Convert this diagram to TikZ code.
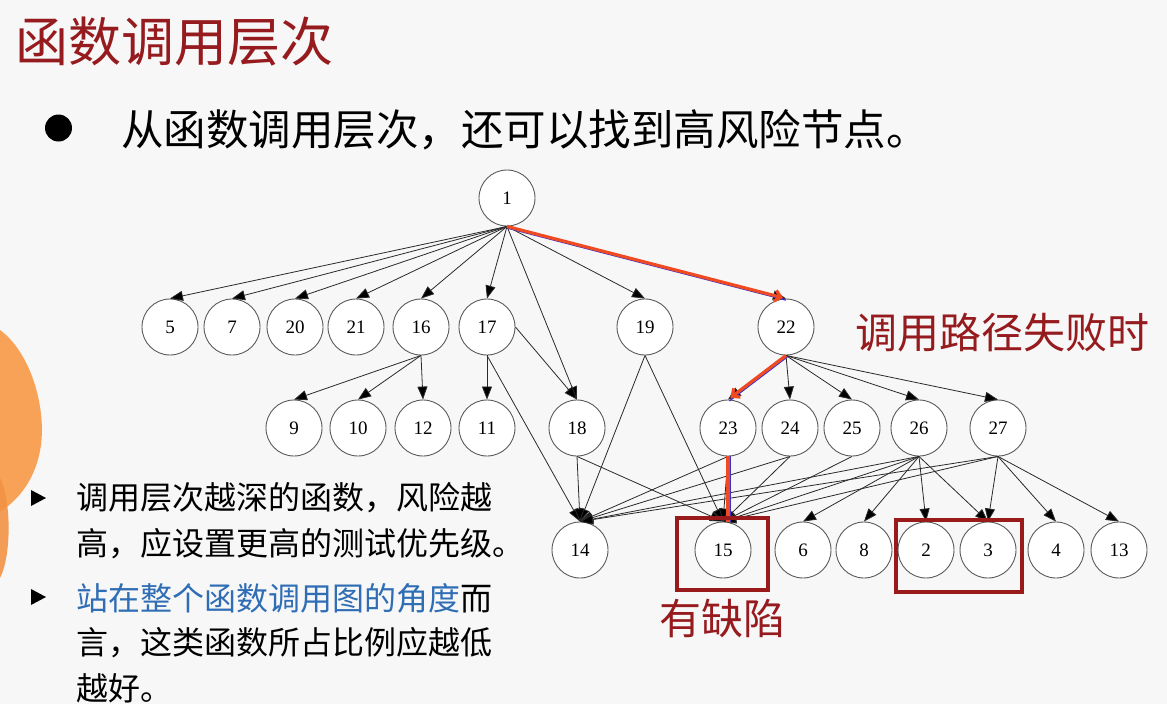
\documentclass[tikz,border=0pt]{standalone}
\usepackage{fontspec}
\setmainfont{Liberation Serif}
\newfontfamily\cjk{Noto Sans CJK SC}
\usetikzlibrary{arrows.meta}
\definecolor{bg}{HTML}{F7F7F7}
\definecolor{darkred}{HTML}{961B1E}
\definecolor{boxred}{HTML}{981A1A}
\definecolor{pathred}{HTML}{F04A22}
\definecolor{pathblue}{HTML}{3A2FD0}
\definecolor{txtblue}{HTML}{2F6DB5}
\definecolor{orangeA}{HTML}{F7A257}
\definecolor{orangeB}{HTML}{F29345}
\definecolor{edgegray}{HTML}{2A2A2A}
\definecolor{nodegray}{HTML}{5A5A5A}
\begin{document}
\begin{tikzpicture}[x=1pt,y=-1pt,
  vx/.style={circle,draw=nodegray,line width=0.9pt,fill=white,minimum size=56pt,inner sep=0pt,font=\fontsize{19}{19}\selectfont},
  edge/.style={draw=edgegray,line width=0.8pt,-{Triangle[length=13pt,width=10pt,fill=black]}},
  hl/.style={draw=pathred,line width=3.2pt,-{Straight Barb[length=6pt,width=11pt]}},
  hlb/.style={draw=pathblue,line width=1.2pt},
  redbox/.style={draw=boxred,line width=3.5pt,inner sep=0pt},
  txt/.style={anchor=west,inner sep=0pt},
  title/.style={txt,text=darkred,font=\cjk\fontsize{53}{53}\selectfont},
  bigtxt/.style={txt,font=\cjk\fontsize{42.5}{42.5}\selectfont},
  redtxt/.style={txt,text=darkred,font=\cjk\fontsize{42}{42}\selectfont},
  smalltxt/.style={txt,font=\cjk\fontsize{32}{32}\selectfont}
]
\useasboundingbox (0,0) rectangle (1167,704);
\fill[bg] (0,0) rectangle (1167,704);
% orange decoration at the left edge
\fill[orangeA] (0,330) .. controls (30,352) and (46,405) .. (41,445) .. controls (36,480) and (18,500) .. (0,512) -- cycle;
\fill[orangeB,opacity=0.9] (0,478) .. controls (11,498) and (12,555) .. (0,578) -- cycle;

% titles and texts
\node[title] (ttl) at (15,42) {函数调用层次};
\fill (58.5,128) circle (13.5);
\node[bigtxt] (lead) at (121,130) {从函数调用层次，还可以找到高风险节点。};
\fill (31,490) -- (46,498) -- (31,506) -- cycle;
\fill (31,589) -- (46,597) -- (31,605) -- cycle;
\node[smalltxt] (l1) at (76,498) {调用层次越深的函数，风险越};
\node[smalltxt] (l2) at (76,544) {高，应设置更高的测试优先级。};
\node[smalltxt] (l3) at (76,598) {\textcolor{txtblue}{站在整个函数调用图的角度}而};
\node[smalltxt] (l4) at (76,643) {言，这类函数所占比例应越低};
\node[smalltxt] (l5) at (76,688) {越好。};
\node[redtxt] (fail) at (855,333) {调用路径失败时};
\node[redtxt] (defect) at (659,618) {有缺陷};

% graph nodes
\node[vx] (n1) at (507,198) {1};
\foreach \n/\x in {5/170,7/232,20/295,21/356,16/421,17/487,19/645,22/786}
  \node[vx] (n\n) at (\x,327) {\n};
\foreach \n/\x in {9/294,10/358,12/423,11/487,18/577,23/728,24/790,25/852,26/919,27/998}
  \node[vx] (n\n) at (\x,428) {\n};
\foreach \n/\x in {14/580,15/723,6/803,8/864,2/926,3/988,4/1056,13/1119}
  \node[vx] (n\n) at (\x,550) {\n};

% edges
\foreach \a/\b in {1/5,1/7,1/20,1/21,1/16,1/17,1/18,1/19,1/22,
  16/9,16/10,16/12,17/11,17/14,19/14,19/15,18/14,18/15,
  22/23,22/24,22/25,22/26,22/27,
  23/15,23/14,24/14,24/15,25/15,
  26/14,26/15,26/6,26/8,26/2,26/3,
  27/14,27/15,27/3,27/4,27/13}
  \draw[edge] (n\a.south) -- (n\b.north);
\draw[edge] (n17.east) -- (n18.north);

% highlighted failing path
\draw[hlb,transform canvas={yshift=-1.6pt}] (n1.south) -- (n22.north);
\draw[hl,shorten >=3pt] (n1.south) -- (n22.north);
\draw[hlb,transform canvas={xshift=1.4pt,yshift=-1.4pt}] (n22.south) -- (n23.north);
\draw[hl,shorten >=3pt] (n22.south) -- (n23.north);
\draw[hlb,transform canvas={xshift=2pt}] (n23.south) -- (n23.south |- n15.north);
\draw[pathred,line width=3.2pt] (n23.south) -- (n23.south |- n15.north);

% marking boxes
\node[redbox,minimum width=91pt,minimum height=72pt] (box15) at (722.5,554) {};
\node[redbox,minimum width=126pt,minimum height=72pt] (box23) at (959,556) {};
\end{tikzpicture}
\end{document}
